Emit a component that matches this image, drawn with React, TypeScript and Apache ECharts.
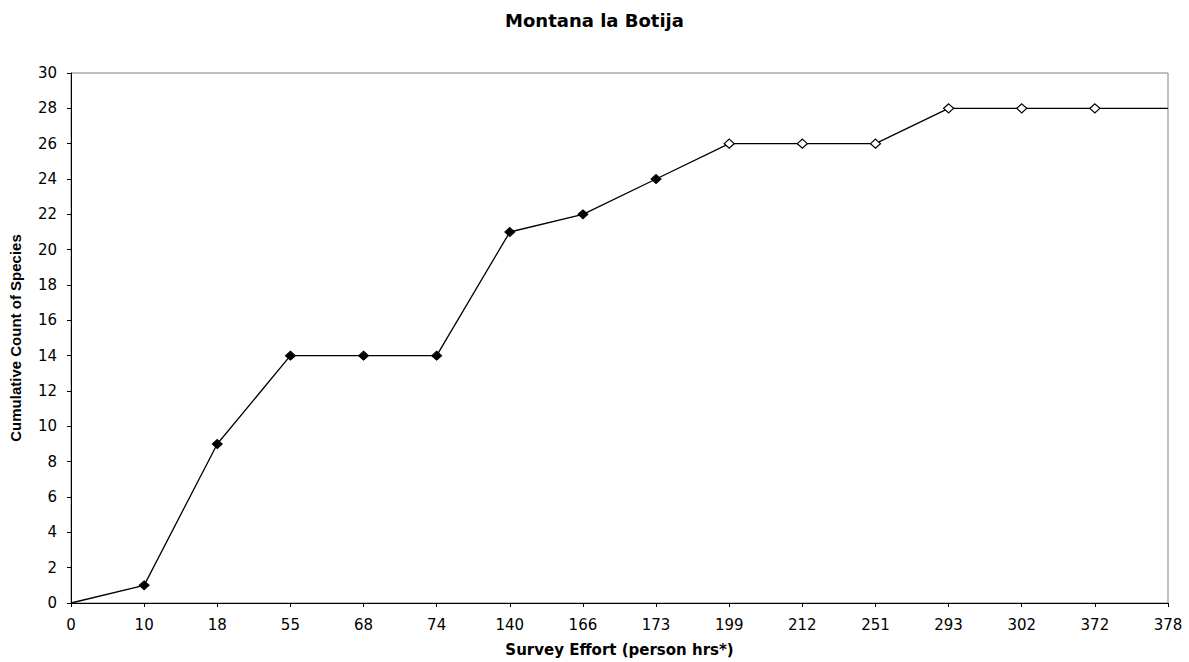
import React, { useEffect, useRef } from "react";
import * as echarts from "echarts";

const categories = ["0", "10", "18", "55", "68", "74", "140", "166", "173", "199", "212", "251", "293", "302", "372", "378"];
const speciesCount = [0, 1, 9, 14, 14, 14, 21, 22, 24, 26, 26, 26, 28, 28, 28, 28];
// marker style per point: "none", "filled", "open"
const markerKind = ["none", "filled", "filled", "filled", "filled", "filled", "filled", "filled", "filled", "open", "open", "open", "open", "open", "open", "none"];

const WIDE = "'DejaVu Sans', 'Liberation Sans', Arial, sans-serif";
const ARIAL = "'Liberation Sans', Arial, sans-serif";

export default function App() {
  const ref = useRef<HTMLDivElement>(null);
  useEffect(() => {
    if (!ref.current) return;
    const chart = echarts.init(ref.current, null, { renderer: "svg" });
    const data = speciesCount.map((v, i) => {
      const k = markerKind[i];
      if (k === "none") return { value: v, symbol: "none" };
      if (k === "open")
        return { value: v, symbol: "diamond", itemStyle: { color: "#ffffff", borderColor: "#000000", borderWidth: 1.2 } };
      return { value: v, symbol: "diamond", itemStyle: { color: "#000000", borderColor: "#000000", borderWidth: 1 } };
    });
    chart.setOption({
      animation: false,
      backgroundColor: "#ffffff",
      title: {
        text: "Montana la Botija",
        left: "center",
        top: 6,
        textStyle: { fontFamily: WIDE, fontSize: 18, fontWeight: "bold", color: "#000" },
      },
      grid: {
        left: 71,
        right: 21,
        top: 73,
        bottom: 59,
        show: true,
        borderColor: "#808080",
        borderWidth: 1,
        backgroundColor: "transparent",
      },
      xAxis: {
        type: "category",
        data: categories,
        boundaryGap: false,
        name: "Survey Effort (person hrs*)",
        nameLocation: "middle",
        nameGap: 39,
        nameTextStyle: { fontFamily: WIDE, fontSize: 15, fontWeight: "bold", color: "#000" },
        axisLine: { lineStyle: { color: "#000", width: 1 } },
        axisTick: { show: true, inside: false, length: 4, alignWithLabel: true, lineStyle: { color: "#000" } },
        axisLabel: { fontFamily: WIDE, fontSize: 15, color: "#000", margin: 14, interval: 0 },
        splitLine: { show: false },
      },
      yAxis: {
        type: "value",
        min: 0,
        max: 30,
        interval: 2,
        name: "Cumulative Count of Species",
        nameLocation: "middle",
        nameGap: 48,
        nameRotate: 90,
        nameTextStyle: { fontFamily: ARIAL, fontSize: 15, fontWeight: "bold", color: "#000" },
        axisLine: { show: true, lineStyle: { color: "#000", width: 1 } },
        axisTick: { show: true, inside: false, length: 4, lineStyle: { color: "#000" } },
        axisLabel: { fontFamily: WIDE, fontSize: 15, color: "#000", margin: 14 },
        splitLine: { show: false },
      },
      series: [
        {
          type: "line",
          data,
          symbolSize: [10, 9],
          lineStyle: { color: "#000", width: 1.3 },
          itemStyle: { color: "#000" },
          showAllSymbol: true,
        },
      ],
    });
    return () => chart.dispose();
  }, []);
  return (
    <div
      ref={ref}
      style={{ position: "fixed", left: 0, top: 0, width: 1189, height: 662, background: "#fff" }}
    />
  );
}
